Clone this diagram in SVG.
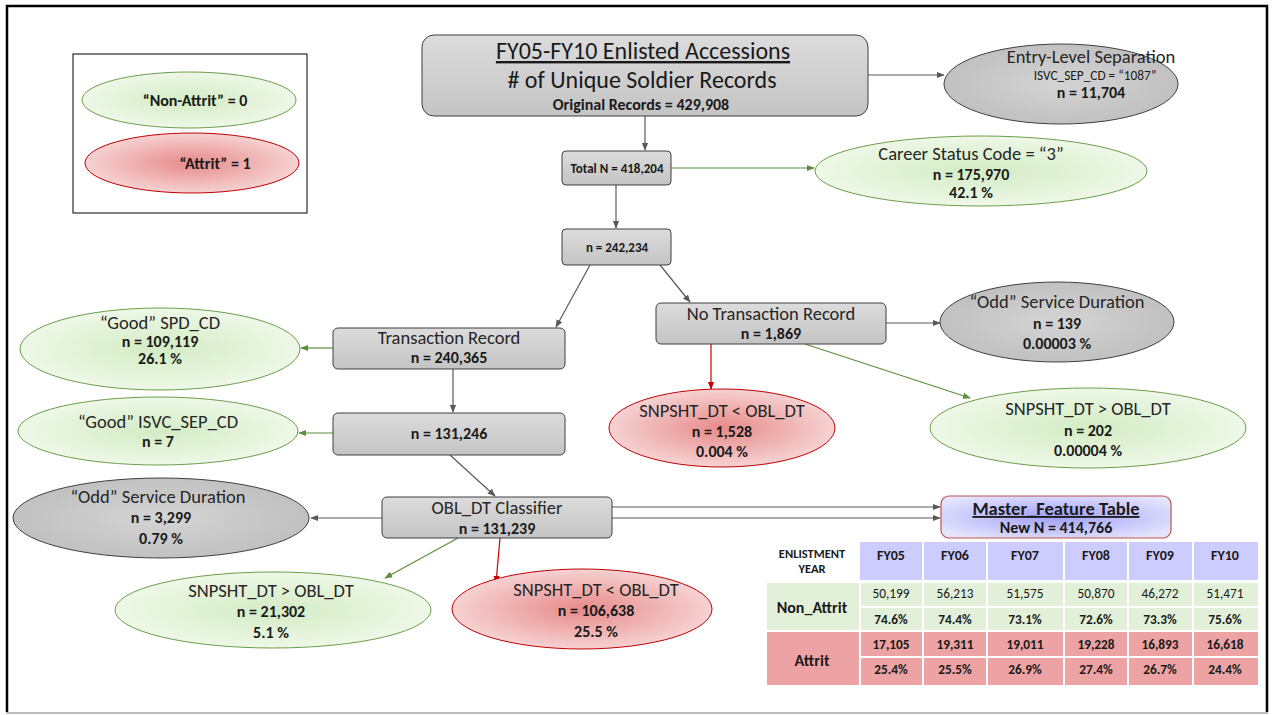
<svg xmlns="http://www.w3.org/2000/svg" width="1274" height="715" viewBox="0 0 1274 715">
<defs>
<linearGradient id="gBox" x1="0" y1="0" x2="0" y2="1">
<stop offset="0" stop-color="#dcdcdc"/><stop offset="1" stop-color="#c4c4c4"/>
</linearGradient>
<radialGradient id="gGray" cx="0.5" cy="0.5" r="0.6">
<stop offset="0" stop-color="#d4d4d4"/><stop offset="1" stop-color="#bdbdbd"/>
</radialGradient>
<radialGradient id="gGreen" cx="0.5" cy="0.5" r="0.6">
<stop offset="0" stop-color="#d3ecc4"/><stop offset="1" stop-color="#f3faee"/>
</radialGradient>
<radialGradient id="gRed" cx="0.5" cy="0.5" r="0.6">
<stop offset="0" stop-color="#e78a8a"/><stop offset="1" stop-color="#f9e0e0"/>
</radialGradient>
<radialGradient id="gBlue" cx="0.5" cy="0.5" r="0.6">
<stop offset="0" stop-color="#9f9ff7"/><stop offset="1" stop-color="#e4e4fd"/>
</radialGradient>
<marker id="aGray" viewBox="0 0 10 10" refX="9" refY="5" markerWidth="8" markerHeight="8" orient="auto" markerUnits="userSpaceOnUse"><path d="M0,1 L10,5 L0,9 z" fill="#595959"/></marker>
<marker id="aGreen" viewBox="0 0 10 10" refX="9" refY="5" markerWidth="8" markerHeight="8" orient="auto" markerUnits="userSpaceOnUse"><path d="M0,1 L10,5 L0,9 z" fill="#5b8f3a"/></marker>
<marker id="aRed" viewBox="0 0 10 10" refX="9" refY="5" markerWidth="8" markerHeight="8" orient="auto" markerUnits="userSpaceOnUse"><path d="M0,1 L10,5 L0,9 z" fill="#cc0000"/></marker>
</defs>
<style>
text{font-family:Carlito,Lato,"Liberation Sans",sans-serif;fill:#1a1a1a;text-anchor:middle}
.t{font-size:18.5px;fill:#262626}
.b{font-size:16px;font-weight:bold}
.s{font-size:13px;font-weight:bold}
.box{fill:url(#gBox);stroke:#3f3f3f;stroke-width:1}
.eg{fill:url(#gGray);stroke:#3f3f3f;stroke-width:1}
.egr{fill:url(#gGreen);stroke:#6a9f4a;stroke-width:1}
.er{fill:url(#gRed);stroke:#c00000;stroke-width:1}
.cg{stroke:#595959;stroke-width:1.2;fill:none;marker-end:url(#aGray)}
.cgr{stroke:#5b8f3a;stroke-width:1.2;fill:none;marker-end:url(#aGreen)}
.cr{stroke:#cc0000;stroke-width:1.2;fill:none;marker-end:url(#aRed)}
.tv{font-size:13.3px}
.tb{font-size:13.3px;font-weight:bold}
.fy{font-size:14px;font-weight:bold}
</style>
<rect x="0" y="0" width="1274" height="715" fill="#ffffff"/>
<path d="M7,712 L7,6 L1267,6 L1267,712" fill="none" stroke="#000" stroke-width="2.5"/>
<line x1="6" y1="713" x2="1268" y2="713" stroke="#a6a6a6" stroke-width="1.5"/>

<g id="legend">
<rect x="73" y="54" width="234" height="159" fill="#fff" stroke="#000" stroke-width="1"/>
<ellipse cx="189" cy="100" rx="107" ry="28" class="egr"/>
<text x="195" y="106" class="b">“Non-Attrit” = 0</text>
<ellipse cx="192" cy="163" rx="107" ry="30" class="er"/>
<text x="215" y="169" class="b">“Attrit” = 1</text>
</g>

<g id="connectors">
<line x1="868" y1="75" x2="944" y2="75" class="cg"/>
<line x1="645" y1="116" x2="645" y2="150" class="cg"/>
<line x1="671" y1="168" x2="814" y2="168" class="cgr"/>
<line x1="616" y1="185" x2="616" y2="228" class="cg"/>
<line x1="590" y1="265" x2="556" y2="327" class="cg"/>
<line x1="660" y1="265" x2="690" y2="302" class="cg"/>
<line x1="333" y1="348" x2="301" y2="348" class="cgr"/>
<line x1="453" y1="369" x2="453" y2="412" class="cg"/>
<line x1="333" y1="433" x2="299" y2="433" class="cgr"/>
<line x1="450" y1="455" x2="495" y2="496" class="cg"/>
<line x1="382" y1="518" x2="311" y2="518" class="cg"/>
<line x1="612" y1="507" x2="940" y2="507" class="cg"/>
<line x1="612" y1="518" x2="940" y2="518" class="cg"/>
<line x1="458" y1="538" x2="385" y2="578" class="cgr"/>
<line x1="500" y1="538" x2="496" y2="583" class="cr"/>
<line x1="886" y1="323" x2="940" y2="323" class="cg"/>
<line x1="711" y1="344" x2="711" y2="389" class="cr"/>
<line x1="805" y1="344" x2="970" y2="398" class="cgr"/>
</g>

<g id="n-top">
<rect x="422" y="35" width="446" height="81" rx="12" class="box"/>
<text x="643" y="59" font-size="24" fill="#262626" text-decoration="underline">FY05-FY10 Enlisted Accessions</text>
<text x="642" y="88" font-size="24" fill="#262626"># of Unique Soldier Records</text>
<text x="641" y="110" class="b">Original Records = 429,908</text>
</g>

<g id="n-entry">
<ellipse cx="1061" cy="84" rx="117" ry="40" class="eg"/>
<text x="1091" y="63" class="t">Entry-Level Separation</text>
<text x="1095" y="80" font-size="13.3" fill="#262626">ISVC_SEP_CD = “1087”</text>
<text x="1091" y="98" class="b">n = 11,704</text>
</g>

<g id="n-total">
<rect x="562" y="151" width="109" height="34" rx="4" class="box"/>
<text x="617" y="173" class="s">Total N = 418,204</text>
</g>

<g id="n-career">
<ellipse cx="981" cy="171" rx="166" ry="35" class="egr"/>
<text x="971" y="160" class="t">Career Status Code = “3”</text>
<text x="971" y="180" class="b">n = 175,970</text>
<text x="971" y="198" class="b">42.1 %</text>
</g>

<g id="n-242">
<rect x="562" y="229" width="109" height="36" rx="4" class="box"/>
<text x="617" y="252" class="s">n = 242,234</text>
</g>

<g id="n-trans">
<rect x="333" y="328" width="232" height="41" rx="5" class="box"/>
<text x="449" y="344" class="t">Transaction Record</text>
<text x="449" y="363" class="b">n = 240,365</text>
</g>

<g id="n-notrans">
<rect x="656" y="303" width="230" height="41" rx="5" class="box"/>
<text x="771" y="320" class="t">No Transaction Record</text>
<text x="771" y="339" class="b">n = 1,869</text>
</g>

<g id="n-goodspd">
<ellipse cx="160" cy="349" rx="140" ry="41" class="egr"/>
<text x="160" y="329" class="t">“Good” SPD_CD</text>
<text x="160" y="347" class="b">n = 109,119</text>
<text x="160" y="364" class="b">26.1 %</text>
</g>

<g id="n-131246">
<rect x="333" y="413" width="232" height="42" rx="5" class="box"/>
<text x="449" y="439" class="b">n = 131,246</text>
</g>

<g id="n-goodisvc">
<ellipse cx="158" cy="431" rx="140" ry="34" class="egr"/>
<text x="158" y="428" class="t">“Good” ISVC_SEP_CD</text>
<text x="158" y="447" class="b">n = 7</text>
</g>

<g id="n-obl">
<rect x="382" y="497" width="230" height="41" rx="5" class="box"/>
<text x="497" y="514" class="t">OBL_DT Classifier</text>
<text x="497" y="534" class="b">n = 131,239</text>
</g>

<g id="n-odd1">
<ellipse cx="161" cy="518" rx="148" ry="40" class="eg"/>
<text x="158" y="503" class="t">“Odd” Service Duration</text>
<text x="161" y="523" class="b">n = 3,299</text>
<text x="161" y="544" class="b">0.79 %</text>
</g>

<g id="n-master">
<rect x="941" y="496" width="230" height="42" rx="8" fill="url(#gBlue)" stroke="#c0504d" stroke-width="1.2"/>
<text x="1056" y="515" font-size="18.5" font-weight="bold" text-decoration="underline">Master_Feature Table</text>
<text x="1056" y="533" class="b">New N = 414,766</text>
</g>

<g id="n-gt1">
<ellipse cx="273" cy="610" rx="158" ry="38" class="egr"/>
<text x="271" y="597" class="t">SNPSHT_DT &gt; OBL_DT</text>
<text x="271" y="617" class="b">n = 21,302</text>
<text x="271" y="638" class="b">5.1 %</text>
</g>

<g id="n-lt1">
<ellipse cx="582" cy="609" rx="130" ry="40" class="er"/>
<text x="596" y="596" class="t">SNPSHT_DT &lt; OBL_DT</text>
<text x="596" y="616" class="b">n = 106,638</text>
<text x="596" y="637" class="b">25.5 %</text>
</g>

<g id="n-odd2">
<ellipse cx="1057" cy="322" rx="117" ry="40" class="eg"/>
<text x="1057" y="308" class="t">“Odd” Service Duration</text>
<text x="1057" y="329" class="b">n = 139</text>
<text x="1057" y="349" class="b">0.00003 %</text>
</g>

<g id="n-lt2">
<ellipse cx="722" cy="428" rx="113" ry="39" class="er"/>
<text x="722" y="417" class="t">SNPSHT_DT &lt; OBL_DT</text>
<text x="722" y="437" class="b">n = 1,528</text>
<text x="722" y="457" class="b">0.004 %</text>
</g>

<g id="n-gt2">
<ellipse cx="1088" cy="428" rx="158" ry="40" class="egr"/>
<text x="1088" y="415" class="t">SNPSHT_DT &gt; OBL_DT</text>
<text x="1088" y="436" class="b">n = 202</text>
<text x="1088" y="456" class="b">0.00004 %</text>
</g>

<g id="table">
<rect x="860" y="542" width="398" height="38" fill="#ccccff"/>
<rect x="767" y="583" width="491" height="47" fill="#e2f0d9"/>
<rect x="767" y="632" width="491" height="53" fill="#eda3a3"/>
<g stroke="#ffffff" stroke-width="2">
<line x1="923" y1="540" x2="923" y2="686"/>
<line x1="987" y1="540" x2="987" y2="686"/>
<line x1="1064" y1="540" x2="1064" y2="686"/>
<line x1="1128" y1="540" x2="1128" y2="686"/>
<line x1="1193" y1="540" x2="1193" y2="686"/>
<line x1="860" y1="583" x2="860" y2="686"/>
<line x1="860" y1="607" x2="1258" y2="607"/>
<line x1="860" y1="657" x2="1258" y2="657"/>
</g>
<text x="812" y="558" font-size="12.5" font-weight="bold" fill="#262626">ENLISTMENT</text>
<text x="812" y="573" font-size="12.5" font-weight="bold" fill="#262626">YEAR</text>
<text x="891" y="560" class="fy">FY05</text>
<text x="955" y="560" class="fy">FY06</text>
<text x="1025" y="560" class="fy">FY07</text>
<text x="1096" y="560" class="fy">FY08</text>
<text x="1160" y="560" class="fy">FY09</text>
<text x="1225" y="560" class="fy">FY10</text>
<text x="812" y="613" font-size="16" font-weight="bold">Non_Attrit</text>
<text x="812" y="666" font-size="16" font-weight="bold">Attrit</text>
<text x="891" y="598" class="tv">50,199</text>
<text x="955" y="598" class="tv">56,213</text>
<text x="1025" y="598" class="tv">51,575</text>
<text x="1096" y="598" class="tv">50,870</text>
<text x="1160" y="598" class="tv">46,272</text>
<text x="1225" y="598" class="tv">51,471</text>
<text x="891" y="624" class="tb">74.6%</text>
<text x="955" y="624" class="tb">74.4%</text>
<text x="1025" y="624" class="tb">73.1%</text>
<text x="1096" y="624" class="tb">72.6%</text>
<text x="1160" y="624" class="tb">73.3%</text>
<text x="1225" y="624" class="tb">75.6%</text>
<text x="891" y="649" class="tb">17,105</text>
<text x="955" y="649" class="tb">19,311</text>
<text x="1025" y="649" class="tb">19,011</text>
<text x="1096" y="649" class="tb">19,228</text>
<text x="1160" y="649" class="tb">16,893</text>
<text x="1225" y="649" class="tb">16,618</text>
<text x="891" y="674" class="tb">25.4%</text>
<text x="955" y="674" class="tb">25.5%</text>
<text x="1025" y="674" class="tb">26.9%</text>
<text x="1096" y="674" class="tb">27.4%</text>
<text x="1160" y="674" class="tb">26.7%</text>
<text x="1225" y="674" class="tb">24.4%</text>
</g>
</svg>
